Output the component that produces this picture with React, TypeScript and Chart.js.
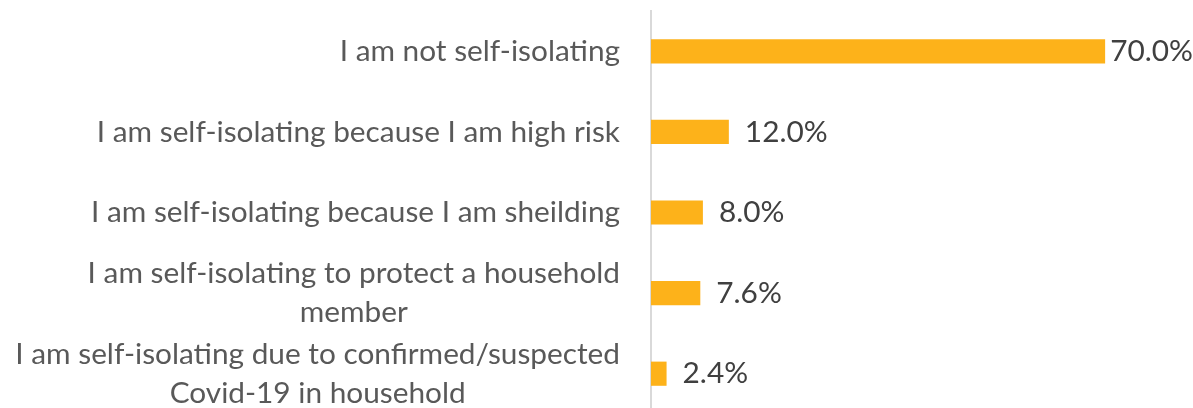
import React, { useEffect, useRef } from "react";
import { Chart, registerables } from "chart.js";

Chart.register(...registerables);

const categories: string[][] = [
  ["I am not self-isolating"],
  ["I am self-isolating because I am high risk"],
  ["I am self-isolating because I am sheilding"],
  ["I am self-isolating to protect a household", "member"],
  ["I am self-isolating due to confirmed/suspected", "Covid-19 in household"],
];
const values: number[] = [70.0, 12.0, 8.0, 7.6, 2.4];
const axisMin = 0;
const axisMax = 80;

const FONT_FAMILY = "Lato, 'Open Sans', sans-serif";
const BAR_COLOR = "#FDB21A";
const CAT_COLOR = "#595959";
const VAL_COLOR = "#404040";
const W = 1193;
const H = 420;

function fitFontSize(): number {
  const c = document.createElement("canvas").getContext("2d");
  if (!c) return 28;
  c.font = `100px ${FONT_FAMILY}`;
  const w = c.measureText("I am self-isolating due to confirmed/suspected").width;
  return (100 * 605) / w;
}

export default function App() {
  const ref = useRef<HTMLCanvasElement | null>(null);

  useEffect(() => {
    if (!ref.current) return;
    const fs = fitFontSize();
    const font = `${fs}px ${FONT_FAMILY}`;

    const labelPlugin = {
      id: "catLabels",
      afterDraw(chart: any) {
        const ctx = chart.ctx as CanvasRenderingContext2D;
        const y = chart.scales.y;
        ctx.save();
        ctx.font = font;
        ctx.fillStyle = CAT_COLOR;
        ctx.textBaseline = "middle";
        ctx.textAlign = "center";
        const right = chart.chartArea.left - 31;
        const lh = 39;
        categories.forEach((lines, i) => {
          const cy = y.getPixelForTick(i);
          const bw = Math.max(...lines.map((l) => ctx.measureText(l).width));
          const cx = right - bw / 2;
          lines.forEach((l, j) => {
            ctx.fillText(l, cx, cy + (j - (lines.length - 1) / 2) * lh);
          });
        });
        // data labels
        ctx.fillStyle = VAL_COLOR;
        ctx.textAlign = "left";
        const meta = chart.getDatasetMeta(0);
        meta.data.forEach((el: any, i: number) => {
          const t = values[i].toFixed(1) + "%";
          const tw = ctx.measureText(t).width;
          const x = Math.max(el.x + 5, Math.min(el.x + 16, chart.width - 1 - tw));
          ctx.fillText(t, x, el.y);
        });
        ctx.restore();
      },
    };

    const chart = new Chart(ref.current, {
      type: "bar",
      data: {
        labels: categories.map((c) => c.join(" ")),
        datasets: [
          {
            data: values,
            backgroundColor: BAR_COLOR,
            borderWidth: 0,
            categoryPercentage: 1,
            barPercentage: 0.3,
          },
        ],
      },
      options: {
        indexAxis: "y",
        responsive: false,
        animation: false,
        layout: { padding: { left: 0, right: 23, top: 11, bottom: 6 } },
        plugins: {
          legend: { display: false },
          tooltip: { enabled: false },
        },
        scales: {
          x: {
            display: false,
            min: axisMin,
            max: axisMax,
          },
          y: {
            display: true,
            grid: { display: false },
            border: { display: true, color: "#D9D9D9", width: 2 },
            ticks: { display: false },
            afterFit(scale: any) {
              scale.width = 651;
            },
          },
        },
      },
      plugins: [labelPlugin],
    });
    return () => chart.destroy();
  }, []);

  return (
    <div style={{ position: "absolute", left: 0, top: 0, width: W, height: H, background: "#fff" }}>
      <canvas ref={ref} width={W} height={H} style={{ display: "block" }} />
    </div>
  );
}
